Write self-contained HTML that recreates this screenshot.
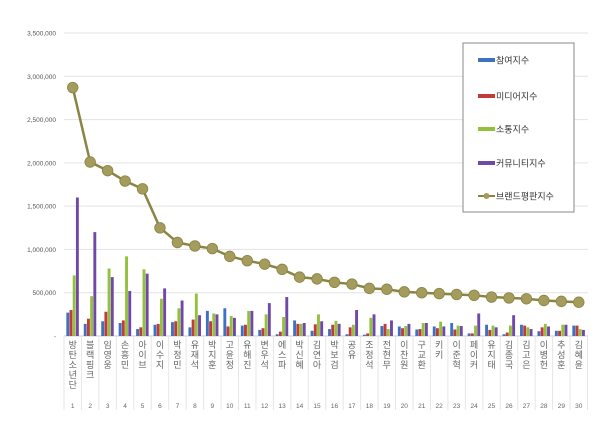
<!DOCTYPE html>
<html><head><meta charset="utf-8"><style>
body{margin:0;background:#fff;}
svg{display:block;font-family:"Liberation Sans","Noto Sans CJK KR",sans-serif;}
</style></head><body>
<svg id="chart" width="600" height="436" viewBox="0 0 600 436"></svg>
<script>
const names=["방탄소년단","블랙핑크","임영웅","손흥민","아이브","이수지","박정민","유재석","박지훈","고윤정","유해진","변우석","에스파","박신혜","김연아","박보검","공유","조정석","전현무","이찬원","구교환","키키","이준혁","페이커","유지태","김종국","김고은","이병헌","추성훈","김혜윤"];
const participation=[270000,140000,170000,150000,80000,130000,160000,100000,290000,320000,120000,70000,20000,180000,60000,80000,20000,15000,115000,110000,75000,110000,150000,30000,130000,20000,130000,55000,60000,120000];
const media=[300000,200000,280000,180000,100000,140000,170000,190000,170000,110000,130000,90000,50000,140000,135000,130000,100000,30000,140000,90000,80000,90000,75000,30000,70000,40000,120000,100000,60000,120000];
const communication=[700000,460000,780000,920000,770000,430000,320000,490000,260000,230000,290000,250000,220000,140000,250000,175000,130000,210000,80000,115000,150000,165000,120000,120000,120000,120000,100000,140000,130000,80000];
const community=[1600000,1200000,680000,520000,720000,550000,410000,240000,250000,210000,290000,380000,450000,150000,170000,140000,300000,250000,180000,140000,150000,110000,115000,260000,100000,240000,80000,110000,130000,70000];
const brand=[2870000,2010000,1910000,1790000,1700000,1250000,1080000,1040000,1010000,920000,870000,830000,770000,680000,660000,620000,600000,550000,540000,510000,500000,490000,480000,470000,450000,440000,430000,410000,400000,390000];
const yTicks=[0,500000,1000000,1500000,2000000,2500000,3000000,3500000];
const yTickLabels=["-","500,000","1,000,000","1,500,000","2,000,000","2,500,000","3,000,000","3,500,000"];
const seriesNames=["참여지수","미디어지수","소통지수","커뮤니티지수","브랜드평판지수"];

const svg=document.getElementById('chart');
const NS='http://www.w3.org/2000/svg';
const X0=64,STEP=17.45,Y0=336,YTOP=33,YMAX=3500000;
const y=v=>Y0-(v/YMAX)*(Y0-YTOP);
const xc=i=>X0+STEP*(i+0.5);
function mk(tag,attrs,parent){const e=document.createElementNS(NS,tag);for(const k in attrs)e.setAttribute(k,attrs[k]);(parent||svg).appendChild(e);return e;}

yTicks.forEach((t,i)=>{
  if(i>0){const g=mk('line',{x1:X0,x2:588,y1:y(t),y2:y(t),stroke:'#e3e3e3','stroke-width':1});
  
  }
  const tx=mk('text',{x:56,y:y(t)+2.5,'font-size':6.5,fill:'#555','text-anchor':'end'});
  tx.textContent=yTickLabels[i];
  
  
});
const base=mk('line',{x1:X0,x2:588,y1:Y0,y2:Y0,stroke:'#ccc'});



const colors=['#3d72c2','#c23a3a','#93c13e','#7048a8'];
const data=[participation,media,communication,community];
const bw=3.2;
names.forEach((n,i)=>{
  data.forEach((arr,s)=>{
    const r=mk('rect',{x:xc(i)-6.4+s*bw,y:y(arr[i]),width:bw-0.3,height:Y0-y(arr[i]),fill:colors[s]});
    
    
  });
  const sep=mk('line',{x1:X0+STEP*(i+1),x2:X0+STEP*(i+1),y1:Y0,y2:410,stroke:'#e6e6e6'});
  
  
  const lbl=mk('text',{x:xc(i),y:Y0+12,'font-size':9,fill:'#666','text-anchor':'middle'});
  n.split('').forEach((ch,k)=>{const ts=mk('tspan',{x:xc(i),dy:k?10:0},lbl);ts.textContent=ch;});
  
  
  const num=mk('text',{x:xc(i),y:408,'font-size':6.5,fill:'#666','text-anchor':'middle'});
  num.textContent=String(i+1);
  
  
});
const sep0=mk('line',{x1:X0,x2:X0,y1:Y0,y2:410,stroke:'#e6e6e6'});



const pts=brand.map((v,i)=>xc(i)+','+y(v)).join(' ');
const pl=mk('polyline',{points:pts,fill:'none',stroke:'#8a8445','stroke-width':2.5});


brand.forEach((v,i)=>{
  const c=mk('circle',{cx:xc(i),cy:y(v),r:5.3,fill:'#a39c5c',stroke:'#8a8445','stroke-width':0.8});
  
  
});

const lg=mk('g',{});


mk('rect',{x:463,y:43,width:111,height:169,fill:'#fff',stroke:'#888'},lg);
const ly=[60,96,129,163,196];
seriesNames.forEach((s,i)=>{
  if(i<4){mk('rect',{x:478,y:ly[i]-2,width:17,height:4,fill:colors[i]},lg);}
  else{mk('line',{x1:478,x2:495,y1:ly[i],y2:ly[i],stroke:'#8a8445','stroke-width':2},lg);mk('circle',{cx:486.5,cy:ly[i],r:3,fill:'#a39c5c'},lg);}
  const t=mk('text',{x:496,y:ly[i]+3.5,'font-size':9,fill:'#333'},lg);
  t.textContent=s;
  
  
});
</script>
</body></html>
